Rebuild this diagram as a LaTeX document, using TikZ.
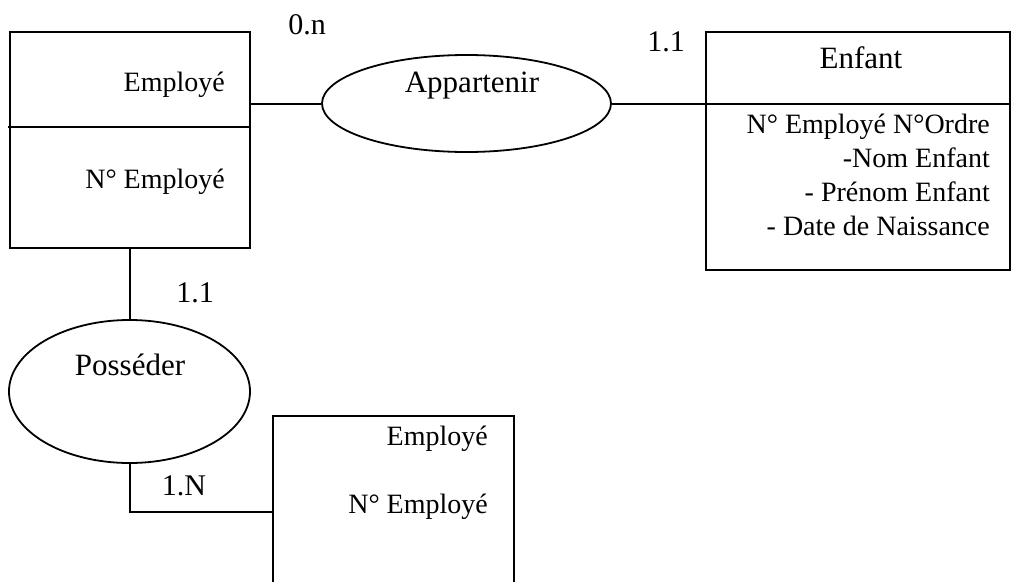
\documentclass[tikz,border=0pt]{standalone}
\usepackage{fontspec}
\setmainfont{Liberation Serif}
\usepackage{tikz}
\usetikzlibrary{calc, positioning, shapes.geometric}

\begin{document}
\begin{tikzpicture}[
        x=1pt, y=-1pt,
        entite/.style={rectangle, draw=black, line width=2pt, inner sep=0pt},
        assoc/.style={ellipse, draw=black, line width=1.8pt, inner sep=0pt},
        lien/.style={draw, line width=2pt},
        txt/.style={font=\fontsize{28}{34}\selectfont, inner sep=0pt},
        titre/.style={font=\fontsize{31}{36}\selectfont, inner sep=0pt},
        card/.style={font=\fontsize{30}{36}\selectfont, inner sep=0pt}
    ]
    \clip (0,0) rectangle (1011,581);
    % entites
    \node [entite, minimum width=240, minimum height=216] (employe) at (130,140) {};
    \node [entite, minimum width=304, minimum height=238] (enfant) at (858,151) {};
    \node [entite, minimum width=241, minimum height=192] (employebis) at (393.5,512) {};
    % associations
    \node [assoc, minimum width=289, minimum height=97] (appartenir) at (466.5,103.5) {};
    \node [assoc, minimum width=241, minimum height=143] (posseder) at (129.5,391.5) {};

    % textes
    \node [txt, anchor=base east] (empnom) at (225,91) {Employé};
    \node [txt, anchor=base east] (empid) at (225,188) {N° Employé};
    \node [titre, anchor=base] (appnom) at (472,92) {Appartenir};
    \node [titre, anchor=base] (enfnom) at (861,68) {Enfant};
    \node [txt, anchor=base east, align=right] (enfattr) at (990,235)
        {N° Employé N°Ordre\\ -Nom Enfant\\ - Prénom Enfant\\ - Date de Naissance};
    \node [titre, anchor=base] (posnom) at (130,375) {Posséder};
    \node [txt, anchor=base east] (bisnom) at (488,445) {Employé};
    \node [txt, anchor=base east] (bisid) at (488,513) {N° Employé};

    % cardinalites
    \node [card, anchor=base] (c0n) at (307,34) {0.n};
    \node [card, anchor=base] (c11a) at (666,51) {1.1};
    \node [card, anchor=base] (c11b) at (195,302) {1.1};
    \node [card, anchor=base] (c1N) at (184,495) {1.N};

    % separateurs
    \draw [lien] (8,127) -- (employe.east |- 0,127);
    \draw [lien] (enfant.west |- appartenir) -- (enfant.east |- appartenir);

    % liens
    \draw [lien] (employe.east |- appartenir) -- (appartenir.west);
    \draw [lien] (appartenir.east) -- (appartenir.east -| enfant.west);
    \draw [lien] (employe.south -| posseder.north) -- (posseder.north);
    \draw [lien] (posseder.south) |- (employebis.west);
\end{tikzpicture}
\end{document}
